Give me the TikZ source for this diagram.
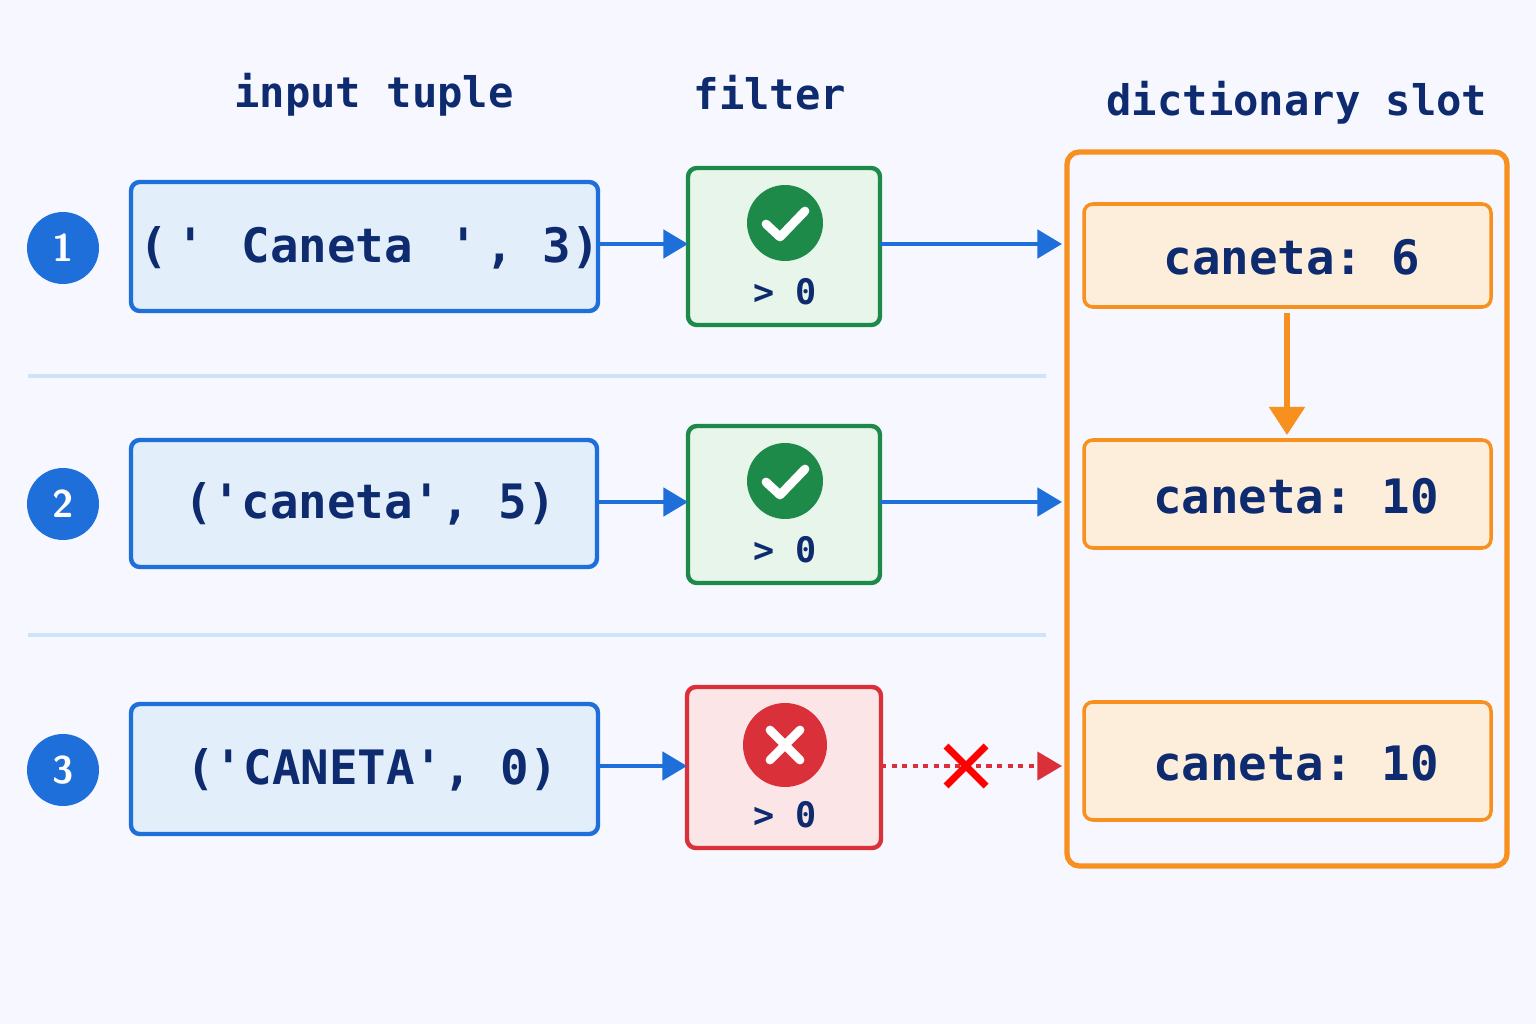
\documentclass[tikz,border=0pt]{standalone}
\usepackage{fontspec}
\setmonofont{DejaVu Sans Mono}
\usetikzlibrary{arrows.meta}
\definecolor{navy}{HTML}{0D2B6E}
\definecolor{bblue}{HTML}{1E6FD9}
\definecolor{lblue}{HTML}{E3EEFB}
\definecolor{gborder}{HTML}{1E8A4A}
\definecolor{gfill}{HTML}{E8F5EA}
\definecolor{rborder}{HTML}{D9303A}
\definecolor{rfill}{HTML}{FBE5E6}
\definecolor{orng}{HTML}{F7901E}
\definecolor{ofill}{HTML}{FDEEDC}
\definecolor{sep}{HTML}{CFE3F7}
\begin{document}
\begin{tikzpicture}[x=0.02cm,y=-0.02cm,
  title/.style={font=\ttfamily\bfseries\fontsize{24}{28}\selectfont,text=navy},
  big/.style={font=\ttfamily\bfseries\fontsize{27}{32}\selectfont,text=navy},
  small/.style={font=\ttfamily\bfseries\fontsize{20}{24}\selectfont,text=navy},
  inbox/.style={draw=bblue,fill=lblue,line width=2.5pt,rounded corners=5pt},
  okbox/.style={draw=gborder,fill=gfill,line width=2.5pt,rounded corners=5pt},
  badbox/.style={draw=rborder,fill=rfill,line width=2.5pt,rounded corners=5pt},
  slot/.style={draw=orng,fill=ofill,line width=2pt,rounded corners=5pt},
  num/.style={circle,fill=bblue,minimum size=1.44cm,inner sep=0pt,text=white,font=\sffamily\bfseries\fontsize{22}{26}\selectfont},
  arr/.style={draw=bblue,line width=2.5pt,-{Triangle[length=14pt,width=16pt]}}]
\fill[white!97!blue] (0,0) rectangle (1536,1024);
\useasboundingbox (0,0) rectangle (1536,1024);
\node[title] (t1) at (374,95) {input tuple};
\node[title] (t2) at (770,93) {filter};
\node[title] (t3) at (1297,103) {dictionary slot};
\draw[sep,line width=2pt] (28,376) -- (1046,376);
\draw[sep,line width=2pt] (28,635) -- (1046,635);
\draw[orng,line width=3pt,rounded corners=7pt] (1067,152) rectangle (1507,866);
% rows
\node[num] (n1) at (63,248) {1};
\node[num] (n2) at (63,504) {2};
\node[num] (n3) at (63,770) {3};
\draw[inbox] (131,182) rectangle (598,311);
\draw[inbox] (131,440) rectangle (597,567);
\draw[inbox] (131,704) rectangle (598,834);
\node[big] (i1) at (370,248) {(\,'\, Caneta \,'\,, 3)};
\node[big] (i2) at (370,504) {('caneta', 5)};
\node[big] (i3) at (372,770) {('CANETA', 0)};
\draw[okbox] (688,168) rectangle (880,325);
\draw[okbox] (688,426) rectangle (880,583);
\draw[badbox] (687,687) rectangle (881,848);
\node[circle,fill=gborder,minimum size=1.52cm,inner sep=0pt] (c1) at (785,223) {};
\node[circle,fill=gborder,minimum size=1.52cm,inner sep=0pt] (c2) at (785,481) {};
\node[circle,fill=rborder,minimum size=1.68cm,inner sep=0pt] (c3) at (785,745) {};
\foreach \y in {223,481}{
  \draw[white,line width=5pt,line cap=round,line join=round] (766,\y+1) -- (780,\y+14) -- (805,\y-12);}
\draw[white,line width=5pt,line cap=round] (770,730) -- (800,760) (800,730) -- (770,760);
\node[small] (g1) at (785,292) {> 0};
\node[small] (g2) at (785,550) {> 0};
\node[small] (g3) at (785,815) {> 0};
\coordinate (a1) at (598,244); \coordinate (b1) at (688,244);
\coordinate (a2) at (597,502); \coordinate (b2) at (688,502);
\coordinate (a3) at (598,766); \coordinate (b3) at (687,766);
\draw[arr] (a1) -- (b1);
\draw[arr] (a2) -- (b2);
\draw[arr] (a3) -- (b3);
\coordinate (f1) at (880,244); \coordinate (d1) at (1062,244);
\coordinate (f2) at (880,502); \coordinate (d2) at (1062,502);
\coordinate (f3) at (881,766); \coordinate (d3) at (1062,766);
\draw[arr] (f1) -- (d1);
\draw[arr] (f2) -- (d2);
\draw[draw=rborder,line width=2pt,dashed,-{Triangle[length=14pt,width=16pt]}] (f3) -- (d3);
\draw[red,line width=4pt] (946,746) -- (986,786) (986,746) -- (946,786);
\draw[slot] (1084,204) rectangle (1491,307);
\draw[slot] (1084,440) rectangle (1491,548);
\draw[slot] (1084,702) rectangle (1491,820);
\node[big] (s1) at (1292,257) {caneta: 6};
\node[big] (s2) at (1296,496) {caneta: 10};
\node[big] (s3) at (1296,763) {caneta: 10};
\coordinate (o1) at (1287,313); \coordinate (o2) at (1287,435);
\draw[draw=orng,line width=3pt,-{Triangle[length=16pt,width=20pt]}] (o1) -- (o2);
\end{tikzpicture}
\end{document}
